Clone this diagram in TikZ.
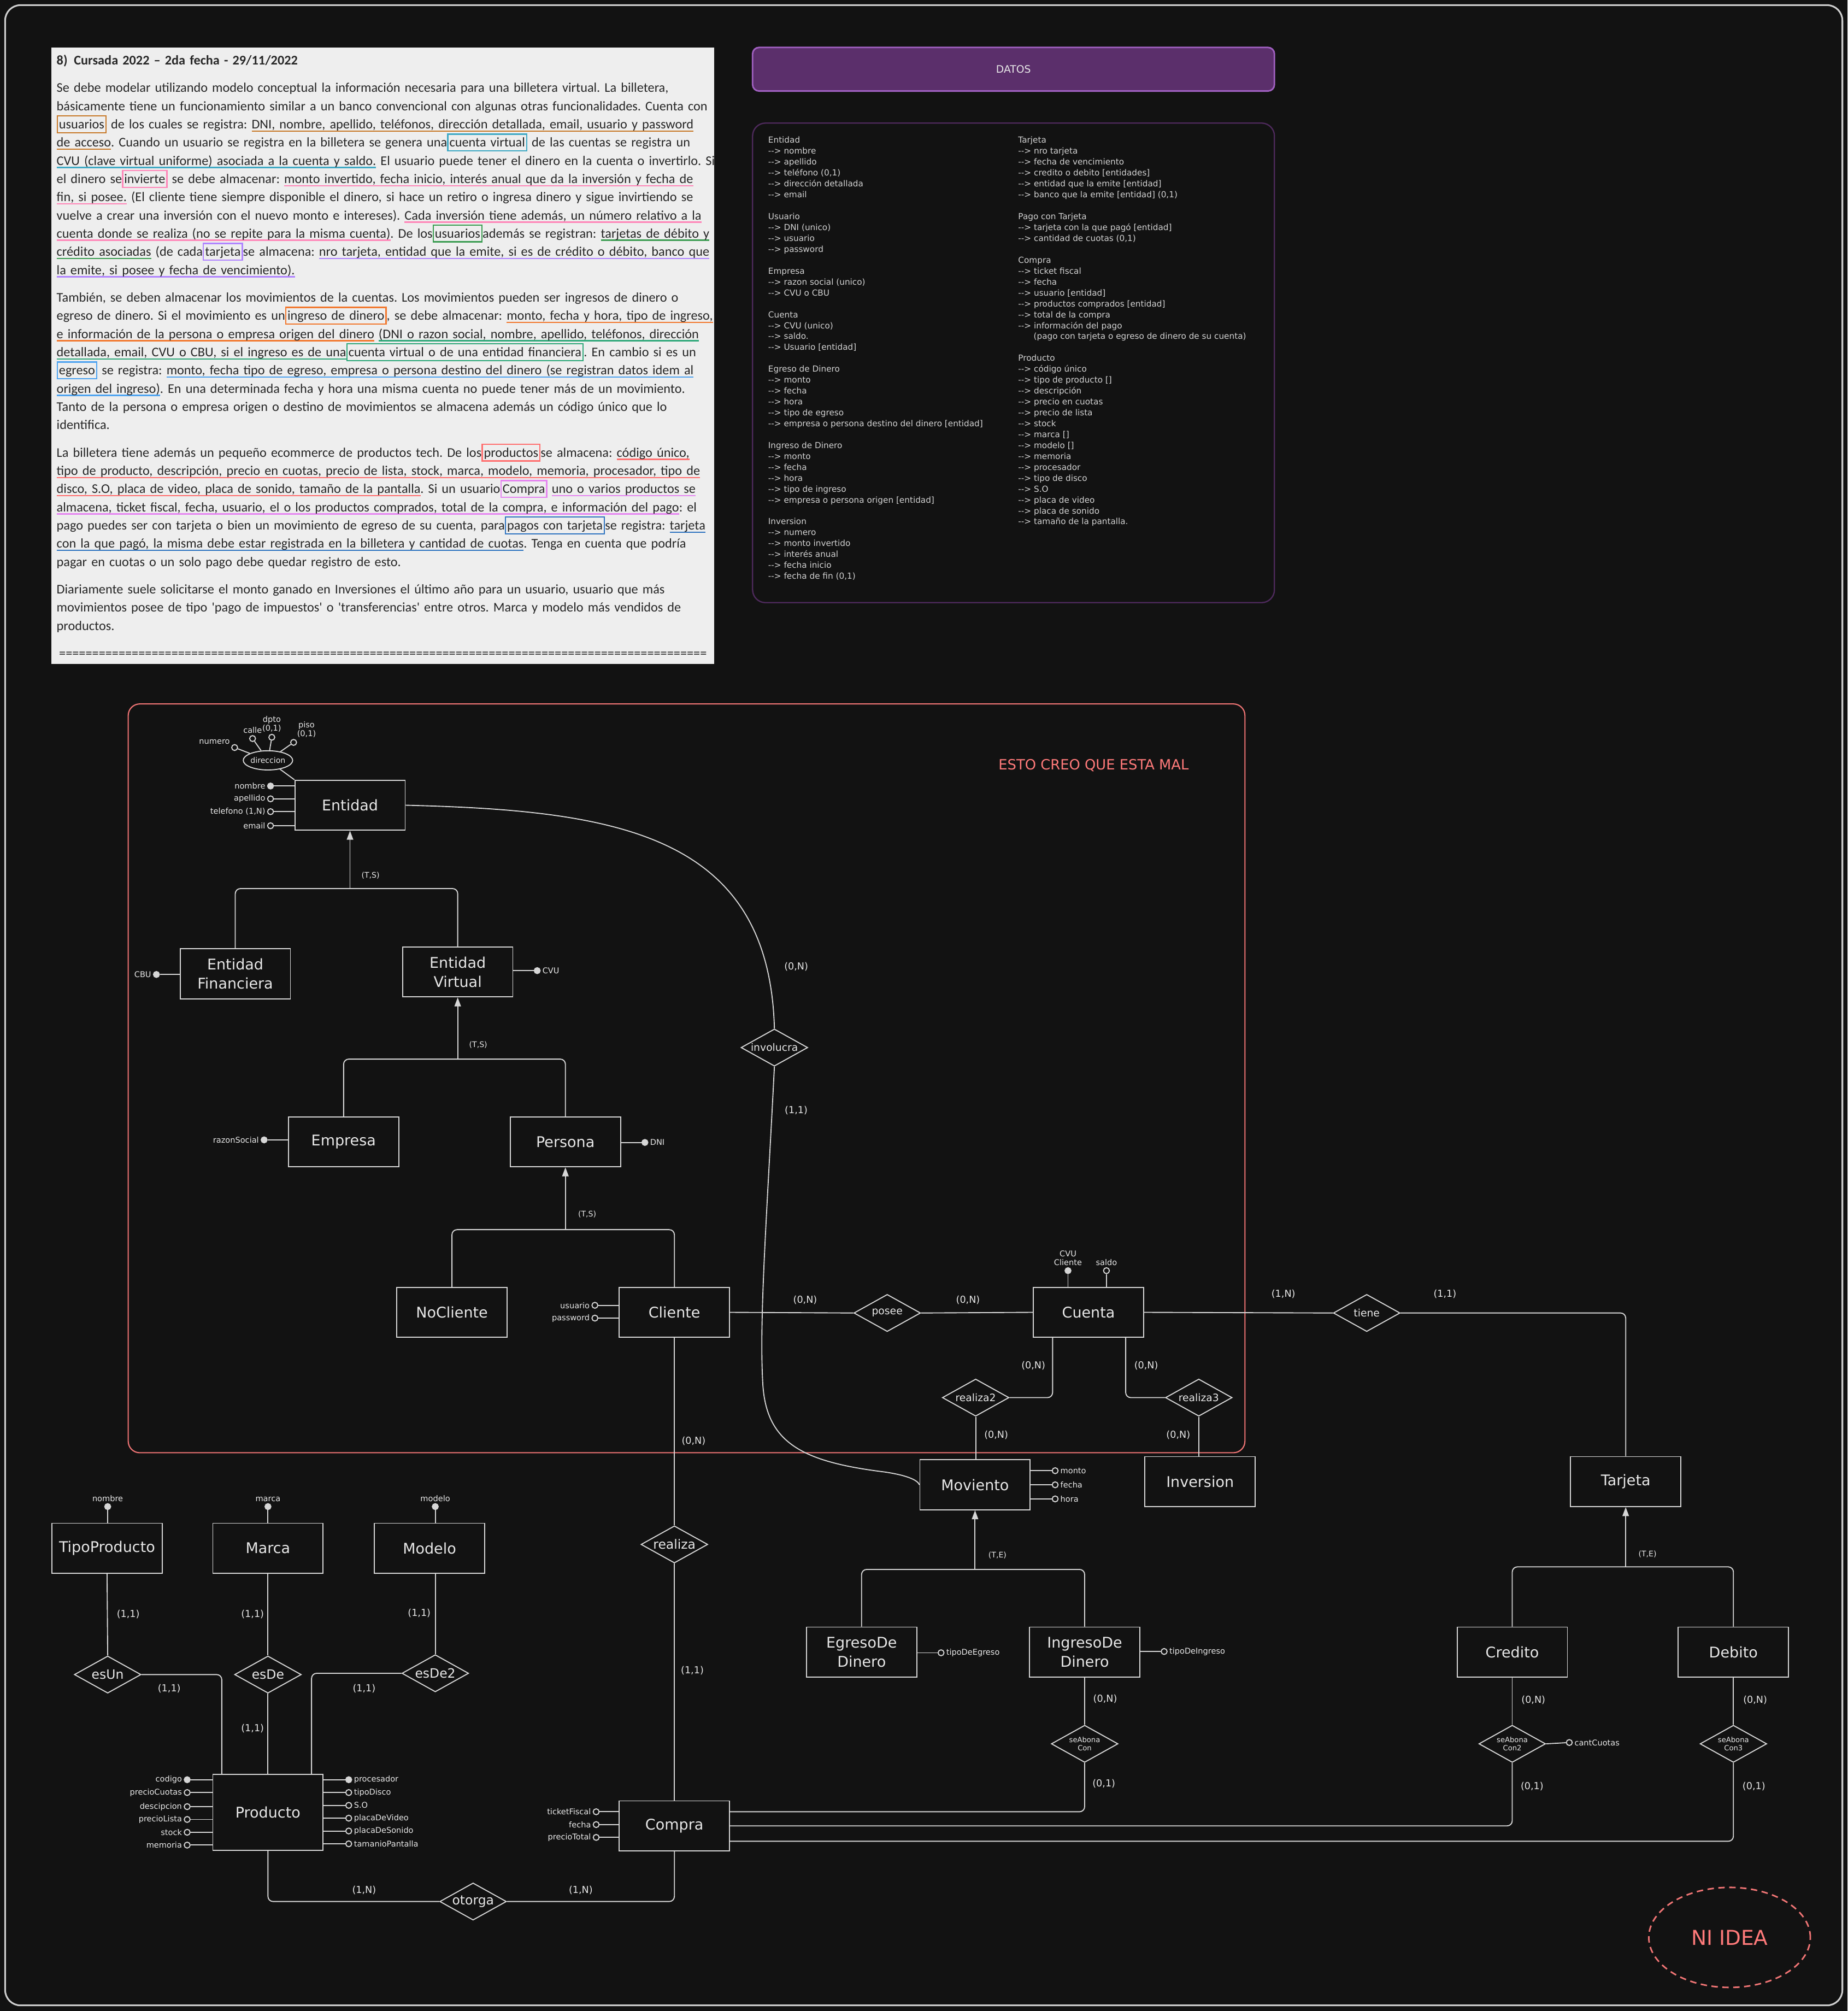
\documentclass[tikz,border=0pt]{standalone}
\usepackage{fontspec}
\usepackage{xcolor}
\usepackage{tikz}
\usetikzlibrary{shapes.geometric, arrows.meta}

\newfontfamily\hand{DejaVu Sans}
\newfontfamily\docfont{Carlito}

\definecolor{bgC}{HTML}{121212}
\definecolor{lineC}{HTML}{D6D6D6}
\definecolor{txtC}{HTML}{E8E8E8}
\definecolor{frameC}{HTML}{D0D0D0}
\definecolor{redC}{HTML}{F07575}
\definecolor{noteC}{HTML}{FF7A7A}
\definecolor{docBg}{HTML}{EEEEEE}
\definecolor{docTxt}{HTML}{262626}
\definecolor{purpF}{HTML}{5B2F6B}
\definecolor{purpB}{HTML}{A060C0}
\definecolor{purpD}{HTML}{4E2A5C}
\definecolor{datTxt}{HTML}{D2D2D2}
\definecolor{c1}{HTML}{C87A2A}
\definecolor{c2}{HTML}{3FA9C4}
\definecolor{c3}{HTML}{FF86B8}
\definecolor{c4}{HTML}{3C9C52}
\definecolor{c5}{HTML}{B084FF}
\definecolor{c6}{HTML}{F2782E}
\definecolor{c7}{HTML}{2FA87A}
\definecolor{c8}{HTML}{4EA3F0}
\definecolor{c9}{HTML}{FF6F6F}
\definecolor{c10}{HTML}{E586F0}
\definecolor{c11}{HTML}{2F74C0}

% flecha de texto sin ligadura
\newcommand\da{-\kern0pt-\kern0pt>\space}
% subrayado y recuadro de color
\newcommand\hu[2]{\leavevmode\setbox0\hbox{#2}\rlap{\textcolor{#1}{\rule[-2.4pt]{\wd0}{1.1pt}}}\box0\relax}
\newcommand\bx[2]{{\setlength\fboxsep{0.8pt}\setlength\fboxrule{1pt}\fcolorbox{#1}{docBg}{\vphantom{Ág}#2}}}

\begin{document}
\begin{tikzpicture}[x=1pt, y=-1pt,
            ent/.style={draw=lineC, line width=0.8pt, fill=bgC, text=txtC, minimum width=86pt, minimum height=39pt, inner sep=1pt, align=center, font=\hand\fontsize{11.5}{15}\selectfont},
            rel/.style={diamond, draw=lineC, line width=0.8pt, fill=bgC, text=txtC, aspect=1.8, minimum width=52pt, minimum height=29pt, inner sep=0.5pt, align=center, font=\hand\fontsize{8}{9.5}\selectfont},
            bigrel/.style={rel, font=\hand\fontsize{10}{12}\selectfont},
            tinyrel/.style={rel, font=\hand\fontsize{5.6}{6.6}\selectfont},
            attr/.style={circle, draw=lineC, line width=0.8pt, fill=bgC, inner sep=0pt, minimum size=4.6pt},
            pkey/.style={fill=lineC},
            albl/.style={text=txtC, inner sep=1.2pt, font=\hand\fontsize{6.2}{7}\selectfont},
            card/.style={text=txtC, inner sep=0pt, font=\hand\fontsize{7.5}{9}\selectfont},
            isalbl/.style={text=txtC, inner sep=0pt, font=\hand\fontsize{6}{7}\selectfont},
            conn/.style={draw=lineC, line width=0.8pt},
            elbow/.style={conn, rounded corners=4pt},
            isa/.style={conn, -{Triangle[width=5pt,length=7pt]}},
            dat/.style={anchor=north west, inner sep=0pt, align=left, text=datTxt, font=\hand\fontsize{6.5}{8.5}\selectfont},
            note/.style={text=noteC, font=\hand\fontsize{11}{13}\selectfont}
        ]

        % Fondo y marco
        \useasboundingbox (0,0) rectangle (1441,1568.4);
        \fill[bgC] (0,0) rectangle (1441,1568.4);
        \draw[frameC, line width=1.3pt, rounded corners=12pt] (4,4) rectangle (1437,1564);

        % Enunciado
        \fill[docBg] (40,37) rectangle (557,518);
        \node[anchor=north west, inner sep=0pt, text width=580pt, align=left, text=docTxt, font=\docfont\fontsize{10.35}{14.2}\selectfont\frenchspacing] (enun) at (44,42.6) {%
{\bfseries 8)\hspace{5pt}Cursada 2022 – 2da fecha - 29/11/2022}\\[7.3pt]
Se debe modelar utilizando modelo conceptual la información necesaria para una billetera virtual. La billetera,\\
básicamente tiene un funcionamiento similar a un banco convencional con algunas otras funcionalidades. Cuenta con\\
\bx{c1}{usuarios} de los cuales se registra: \hu{c1}{DNI, nombre, apellido, teléfonos, dirección detallada, email, usuario y password}\\
\hu{c1}{de acceso}. Cuando un usuario se registra en la billetera se genera una\bx{c2}{cuenta virtual} de las cuentas se registra un\\
\hu{c2}{CVU (clave virtual uniforme) asociada a la cuenta y saldo.} El usuario puede tener el dinero en la cuenta o invertirlo. Si\\
el dinero se\bx{c3}{invierte} se debe almacenar: \hu{c3}{monto invertido, fecha inicio, interés anual que da la inversión y fecha de}\\
\hu{c3}{fin, si posee.} (El cliente tiene siempre disponible el dinero, si hace un retiro o ingresa dinero y sigue invirtiendo se\\
vuelve a crear una inversión con el nuevo monto e intereses). \hu{c3}{Cada inversión tiene además, un número relativo a la}\\
\hu{c3}{cuenta donde se realiza (no se repite para la misma cuenta)}. De los\bx{c4}{usuarios}además se registran: \hu{c4}{tarjetas de débito y}\\
\hu{c4}{crédito asociadas} (de cada\bx{c5}{tarjeta}se almacena: \hu{c5}{nro tarjeta, entidad que la emite, si es de crédito o débito, banco que}\\
\hu{c5}{la emite, si posee y fecha de vencimiento).}\\[7.3pt]
También, se deben almacenar los movimientos de la cuentas. Los movimientos pueden ser ingresos de dinero o\\
egreso de dinero. Si el movimiento es un\bx{c6}{ingreso de dinero}, se debe almacenar: \hu{c6}{monto, fecha y hora, tipo de ingreso,}\\
\hu{c6}{e información de la persona o empresa origen del dinero} \hu{c7}{(DNI o razon social, nombre, apellido, teléfonos, dirección}\\
\hu{c7}{detallada, email, CVU o CBU, si el ingreso es de una}\bx{c7}{cuenta virtual o de una entidad financiera}. En cambio si es un\\
\bx{c8}{egreso} se registra: \hu{c8}{monto, fecha tipo de egreso, empresa o persona destino del dinero (se registran datos idem al}\\
\hu{c8}{origen del ingreso)}. En una determinada fecha y hora una misma cuenta no puede tener más de un movimiento.\\
Tanto de la persona o empresa origen o destino de movimientos se almacena además un código único que lo\\
identifica.\\[7.3pt]
La billetera tiene además un pequeño ecommerce de productos tech. De los\bx{c9}{productos}se almacena: \hu{c9}{código único,}\\
\hu{c9}{tipo de producto, descripción, precio en cuotas, precio de lista, stock, marca, modelo, memoria, procesador, tipo de}\\
\hu{c9}{disco, S.O, placa de video, placa de sonido, tamaño de la pantalla}. Si un usuario\bx{c10}{Compra} \hu{c10}{uno o varios productos se}\\
\hu{c10}{almacena, ticket fiscal, fecha, usuario, el o los productos comprados, total de la compra, e información del pago}: el\\
pago puedes ser con tarjeta o bien un movimiento de egreso de su cuenta, para\bx{c11}{pagos con tarjeta}se registra: \hu{c11}{tarjeta}\\
\hu{c11}{con la que pagó, la misma debe estar registrada en la billetera y cantidad de cuotas}. Tenga en cuenta que podría\\
pagar en cuotas o un solo pago debe quedar registro de esto.\\[7.3pt]
Diariamente suele solicitarse el monto ganado en Inversiones el último año para un usuario, usuario que más\\
movimientos posee de tipo 'pago de impuestos' o 'transferencias' entre otros. Marca y modelo más vendidos de\\
productos.\\[7.3pt]
\hbox to 509pt{\cleaders\hbox{=}\hfill}};

        % Datos
        \node[draw=purpB, fill=purpF, line width=1.2pt, rounded corners=5pt, minimum width=407pt, minimum height=34pt, text=txtC, font=\hand\fontsize{8}{9}\selectfont] (datos) at (790.5,54) {DATOS};
        \draw[purpD, line width=1pt, rounded corners=10pt] (587,96) rectangle (994,470);
        \node[dat] (datL) at (599,106.5) {Entidad\\
\da nombre\\
\da apellido\\
\da teléfono (0,1)\\
\da dirección detallada\\
\da email\\[8.5pt]
Usuario\\
\da DNI (unico)\\
\da usuario\\
\da password\\[8.5pt]
Empresa\\
\da razon social (unico)\\
\da CVU o CBU\\[8.5pt]
Cuenta\\
\da CVU (unico)\\
\da saldo.\\
\da Usuario [entidad]\\[8.5pt]
Egreso de Dinero\\
\da monto\\
\da fecha\\
\da hora\\
\da tipo de egreso\\
\da empresa o persona destino del dinero [entidad]\\[8.5pt]
Ingreso de Dinero\\
\da monto\\
\da fecha\\
\da hora\\
\da tipo de ingreso\\
\da empresa o persona origen [entidad]\\[8.5pt]
Inversion\\
\da numero\\
\da monto invertido\\
\da interés anual\\
\da fecha inicio\\
\da fecha de fin (0,1)};
        \node[dat] (datR) at (794,106.5) {Tarjeta\\
\da nro tarjeta\\
\da fecha de vencimiento\\
\da credito o debito [entidades]\\
\da entidad que la emite [entidad]\\
\da banco que la emite [entidad] (0,1)\\[8.5pt]
Pago con Tarjeta\\
\da tarjeta con la que pagó [entidad]\\
\da cantidad de cuotas (0,1)\\[8.5pt]
Compra\\
\da ticket fiscal\\
\da fecha\\
\da usuario [entidad]\\
\da productos comprados [entidad]\\
\da total de la compra\\
\da información del pago\\
\hspace*{12pt}(pago con tarjeta o egreso de dinero de su cuenta)\\[8.5pt]
Producto\\
\da código único\\
\da tipo de producto []\\
\da descripción\\
\da precio en cuotas\\
\da precio de lista\\
\da stock\\
\da marca []\\
\da modelo []\\
\da memoria\\
\da procesador\\
\da tipo de disco\\
\da S.O\\
\da placa de video\\
\da placa de sonido\\
\da tamaño de la pantalla.};

        % Zona dudosa
        \draw[redC, line width=0.9pt, rounded corners=9pt] (100,549) rectangle (971,1133);
        \node[note] (nota1) at (853,597) {ESTO CREO QUE ESTA MAL};

        % Entidades
        \node[ent] (Ent) at (273,628) {Entidad};
        \node[ent] (EFin) at (183.5,759.5) {Entidad\\Financiera};
        \node[ent] (EVir) at (357,758) {Entidad\\Virtual};
        \node[ent] (Emp) at (268,890.5) {Empresa};
        \node[ent] (Per) at (441,890.5) {Persona};
        \node[ent] (NoCli) at (352.5,1023.5) {NoCliente};
        \node[ent] (Cli) at (526,1023.5) {Cliente};
        \node[ent] (Cue) at (849,1023.5) {Cuenta};
        \node[ent] (Mov) at (760.5,1158) {Moviento};
        \node[ent] (Inv) at (936,1155.5) {Inversion};
        \node[ent] (Tar) at (1268,1155.5) {Tarjeta};
        \node[ent] (TipP) at (83.5,1207.5) {TipoProducto};
        \node[ent] (Mar) at (209,1207.5) {Marca};
        \node[ent] (Mod) at (335,1207.5) {Modelo};
        \node[ent] (Egr) at (672,1288.5) {EgresoDe\\Dinero};
        \node[ent] (Ing) at (846,1288.5) {IngresoDe\\Dinero};
        \node[ent] (Cre) at (1179.5,1288.5) {Credito};
        \node[ent] (Deb) at (1352,1288.5) {Debito};
        \node[ent, minimum height=59pt] (Prod) at (209,1413.5) {Producto};
        \node[ent] (Comp) at (526,1424) {Compra};

        % Relaciones
        \node[rel] (invo) at (604,817) {involucra};
        \node[rel] (pos) at (692,1024) {posee};
        \node[rel] (rz2) at (761,1090) {realiza2};
        \node[rel] (rz3) at (935,1090) {realiza3};
        \node[rel] (tie) at (1066,1024) {tiene};
        \node[bigrel] (rz) at (526,1204.5) {realiza};
        \node[bigrel] (eun) at (84,1306) {esUn};
        \node[bigrel] (ede) at (209,1306) {esDe};
        \node[bigrel] (ed2) at (339.5,1305) {esDe2};
        \node[tinyrel] (sab1) at (846,1360) {seAbona\\Con};
        \node[tinyrel] (sab2) at (1179.5,1360) {seAbona\\Con2};
        \node[tinyrel] (sab3) at (1352,1360) {seAbona\\Con3};
        \node[bigrel] (oto) at (369,1483) {otorga};

        % Atributos de Entidad
        \node[ellipse, draw=lineC, line width=0.8pt, fill=bgC, text=txtC, inner sep=0pt, minimum width=38pt, minimum height=15pt, font=\hand\fontsize{6}{7}\selectfont] (dir) at (209,593) {direccion};
        \node[attr, label={[albl]150:numero}] (aDnum) at (183,583) {};
        \node[attr, label={[albl]above:calle}] (aDcal) at (197,576) {};
        \node[attr, label={[albl, align=center]above:{dpto\\(0,1)}}] (aDdpt) at (212,575) {};
        \node[attr, label={[albl, align=center]60:{piso\\(0,1)}}] (aDpis) at (229,579) {};
        \node[attr, pkey, label={[albl]left:nombre}] (aEnom) at (211,613) {};
        \node[attr, label={[albl]left:apellido}] (aEape) at (211,623) {};
        \node[attr, label={[albl]left:{telefono (1,N)}}] (aEtel) at (211,633) {};
        \node[attr, label={[albl]left:email}] (aEema) at (211,644) {};

        \draw[conn] (aDnum) -- (dir);
        \draw[conn] (aDcal) -- (dir);
        \draw[conn] (aDdpt) -- (dir);
        \draw[conn] (aDpis) -- (dir);
        \draw[conn] (dir) -- (Ent.north west);
        \draw[conn] (aEnom) -- (aEnom -| Ent.west);
        \draw[conn] (aEape) -- (aEape -| Ent.west);
        \draw[conn] (aEtel) -- (aEtel -| Ent.west);
        \draw[conn] (aEema) -- (aEema -| Ent.west);

        % Otros atributos
        \node[attr, pkey, label={[albl]left:CBU}] (aCbu) at (122,760) {};
        \node[attr, pkey, label={[albl]right:CVU}] (aCvu) at (419,757) {};
        \node[attr, pkey, label={[albl]left:razonSocial}] (aRaz) at (206,889) {};
        \node[attr, pkey, label={[albl]right:DNI}] (aDni) at (503,891) {};
        \node[attr, label={[albl]left:usuario}] (aUsu) at (464,1018) {};
        \node[attr, label={[albl]left:password}] (aPas) at (464,1028) {};
        \node[attr, pkey, label={[albl, align=center]above:{CVU\\Cliente}}] (aCvc) at (833,991) {};
        \node[attr, label={[albl]above:saldo}] (aSal) at (863,991) {};
        \node[attr, label={[albl]right:monto}] (aMmo) at (823,1147) {};
        \node[attr, label={[albl]right:fecha}] (aMfe) at (823,1158) {};
        \node[attr, label={[albl]right:hora}] (aMho) at (823,1169) {};
        \node[attr, label={[albl]right:tipoDeEgreso}] (aTde) at (734,1289) {};
        \node[attr, label={[albl]right:tipoDeIngreso}] (aTdi) at (908,1288) {};
        \node[attr, label={[albl]right:cantCuotas}] (aCc) at (1224,1359) {};
        \node[attr, pkey, label={[albl]above:nombre}] (aTpn) at (84,1175) {};
        \node[attr, pkey, label={[albl]above:marca}] (aMar) at (209,1175) {};
        \node[attr, pkey, label={[albl]above:modelo}] (aMod) at (339.5,1175) {};
        \node[attr, label={[albl]left:ticketFiscal}] (aTic) at (465,1413) {};
        \node[attr, label={[albl]left:fecha}] (aCfe) at (465,1423) {};
        \node[attr, label={[albl]left:precioTotal}] (aPtt) at (465,1433) {};

        \node[attr, pkey, label={[albl]left:codigo}] (aPcod) at (146,1388) {};
        \node[attr, label={[albl]left:precioCuotas}] (aPpcu) at (146,1398) {};
        \node[attr, label={[albl]left:descipcion}] (aPdes) at (146,1409) {};
        \node[attr, label={[albl]left:precioLista}] (aPpli) at (146,1419) {};
        \node[attr, label={[albl]left:stock}] (aPsto) at (146,1429) {};
        \node[attr, label={[albl]left:memoria}] (aPmem) at (146,1439) {};
        \node[attr, pkey, label={[albl]right:procesador}] (aPpro) at (272,1388) {};
        \node[attr, label={[albl]right:tipoDisco}] (aPtdi) at (272,1398) {};
        \node[attr, label={[albl]right:S.O}] (aPso) at (272,1408) {};
        \node[attr, label={[albl]right:placaDeVideo}] (aPvid) at (272,1418) {};
        \node[attr, label={[albl]right:placaDeSonido}] (aPson) at (272,1428) {};
        \node[attr, label={[albl]right:tamanioPantalla}] (aPtam) at (272,1438) {};

        \draw[conn] (aCbu) -- (aCbu -| EFin.west);
        \draw[conn] (aCvu) -- (aCvu -| EVir.east);
        \draw[conn] (aRaz) -- (aRaz -| Emp.west);
        \draw[conn] (aDni) -- (aDni -| Per.east);
        \draw[conn] (aUsu) -- (aUsu -| Cli.west);
        \draw[conn] (aPas) -- (aPas -| Cli.west);
        \draw[conn] (aCvc) -- (aCvc |- Cue.north);
        \draw[conn] (aSal) -- (aSal |- Cue.north);
        \draw[conn] (aMmo) -- (aMmo -| Mov.east);
        \draw[conn] (aMfe) -- (aMfe -| Mov.east);
        \draw[conn] (aMho) -- (aMho -| Mov.east);
        \draw[conn] (aTde) -- (aTde -| Egr.east);
        \draw[conn] (aTdi) -- (aTdi -| Ing.east);
        \draw[conn] (sab2.east) -- (aCc);
        \draw[conn] (aTpn) -- (aTpn |- TipP.north);
        \draw[conn] (aMar) -- (aMar |- Mar.north);
        \draw[conn] (aMod) -- (aMod |- Mod.north);
        \draw[conn] (aTic) -- (aTic -| Comp.west);
        \draw[conn] (aCfe) -- (aCfe -| Comp.west);
        \draw[conn] (aPtt) -- (aPtt -| Comp.west);
        \draw[conn] (aPcod) -- (aPcod -| Prod.west);
        \draw[conn] (aPpcu) -- (aPpcu -| Prod.west);
        \draw[conn] (aPdes) -- (aPdes -| Prod.west);
        \draw[conn] (aPpli) -- (aPpli -| Prod.west);
        \draw[conn] (aPsto) -- (aPsto -| Prod.west);
        \draw[conn] (aPmem) -- (aPmem -| Prod.west);
        \draw[conn] (aPpro) -- (aPpro -| Prod.east);
        \draw[conn] (aPtdi) -- (aPtdi -| Prod.east);
        \draw[conn] (aPso) -- (aPso -| Prod.east);
        \draw[conn] (aPvid) -- (aPvid -| Prod.east);
        \draw[conn] (aPson) -- (aPson -| Prod.east);
        \draw[conn] (aPtam) -- (aPtam -| Prod.east);

        % Jerarquias
        \coordinate (jE) at (273,693);
        \coordinate (jV) at (357,826);
        \coordinate (jP) at (441,959);
        \coordinate (jM) at (760.5,1224);
        \coordinate (jT) at (1268,1222);
        \draw[elbow] (EFin.north) |- (jE) -| (EVir.north);
        \draw[isa] (jE) -- (Ent.south);
        \draw[elbow] (Emp.north) |- (jV) -| (Per.north);
        \draw[isa] (jV) -- (EVir.south);
        \draw[elbow] (NoCli.north) |- (jP) -| (Cli.north);
        \draw[isa] (jP) -- (Per.south);
        \draw[elbow] (Egr.north) |- (jM) -| (Ing.north);
        \draw[isa] (jM) -- (Mov.south);
        \draw[elbow] (Cre.north) |- (jT) -| (Deb.north);
        \draw[isa] (jT) -- (Tar.south);

        % Relaciones: conexiones
        \draw[conn] (Cli.east) -- (pos.west);
        \draw[conn] (pos.east) -- (Cue.west);
        \draw[conn] (Cue.east) -- (tie.west);
        \draw[elbow] (tie.east) -| (Tar.north);
        \draw[elbow] ([xshift=-28pt]Cue.south) |- (rz2.east);
        \draw[conn] (rz2.south) -- (Mov.north -| rz2.south);
        \draw[elbow] ([xshift=29pt]Cue.south) |- (rz3.west);
        \draw[conn] (rz3.south) -- (Inv.north -| rz3.south);
        \draw[conn] (Cli.south) -- (rz.north);
        \draw[conn] (rz.south) -- (Comp.north);
        \draw[conn] (Ent.east) .. controls (480,632) and (600,650) .. (invo.north);
        \draw[conn] (invo.south) .. controls (598,950) and (592,1030) .. (595,1080)
            .. controls (598,1125) and (625,1140) .. (690,1148)
            .. controls (710,1151) and (716,1155) .. (Mov.west);
        \draw[conn] (TipP.south) -- (eun.north);
        \draw[elbow] (eun.east) -| ([xshift=-36pt]Prod.north);
        \draw[conn] (Mar.south) -- (ede.north);
        \draw[conn] (ede.south) -- (Prod.north);
        \draw[conn] ([xshift=4.5pt]Mod.south) -- (ed2.north);
        \draw[elbow] (ed2.west) -| ([xshift=34pt]Prod.north);
        \draw[conn] (Ing.south) -- (sab1.north);
        \draw[elbow] (sab1.south) |- ([yshift=11pt]Comp.east);
        \draw[conn] (Cre.south) -- (sab2.north);
        \draw[elbow] (sab2.south) |- (Comp.east);
        \draw[conn] (Deb.south) -- (sab3.north);
        \draw[elbow] (sab3.south) |- ([yshift=-12pt]Comp.east);
        \draw[elbow] (Comp.south) |- (oto.east);
        \draw[elbow] (oto.west) -| (Prod.south);

        % Cardinalidades
        \node[isalbl] (kE) at (289,683) {(T,S)};
        \node[isalbl] (kV) at (373,815) {(T,S)};
        \node[isalbl] (kP) at (458,947) {(T,S)};
        \node[isalbl] (kM) at (778,1213) {(T,E)};
        \node[isalbl] (kT) at (1285,1212) {(T,E)};
        \node[card] (k1) at (628,1014) {(0,N)};
        \node[card] (k2) at (755,1014) {(0,N)};
        \node[card] (k3) at (1001,1009) {(1,N)};
        \node[card] (k4) at (1127,1009) {(1,1)};
        \node[card] (k5) at (806,1065) {(0,N)};
        \node[card] (k6) at (777,1119) {(0,N)};
        \node[card] (k7) at (894,1065) {(0,N)};
        \node[card] (k8) at (919,1119) {(0,N)};
        \node[card] (k9) at (621,754) {(0,N)};
        \node[card] (k10) at (621,866) {(1,1)};
        \node[card] (k11) at (541,1124) {(0,N)};
        \node[card] (k12) at (540,1303) {(1,1)};
        \node[card] (k13) at (100,1259) {(1,1)};
        \node[card] (k14) at (132,1317) {(1,1)};
        \node[card] (k15) at (197,1259) {(1,1)};
        \node[card] (k16) at (197,1348) {(1,1)};
        \node[card] (k17) at (327,1258) {(1,1)};
        \node[card] (k18) at (284,1317) {(1,1)};
        \node[card] (k19) at (862,1325) {(0,N)};
        \node[card] (k20) at (861,1391) {(0,1)};
        \node[card] (k21) at (1196,1326) {(0,N)};
        \node[card] (k22) at (1195,1393) {(0,1)};
        \node[card] (k23) at (1369,1326) {(0,N)};
        \node[card] (k24) at (1368,1393) {(0,1)};
        \node[card] (k25) at (453,1474) {(1,N)};
        \node[card] (k26) at (284,1474) {(1,N)};

        % Nota
        \node[note, draw=redC, dashed, dash pattern=on 5pt off 3.5pt, line width=1.2pt, ellipse, minimum width=126pt, minimum height=78pt, font=\hand\fontsize{16}{18}\selectfont] (nota2) at (1349,1511) {NI IDEA};

    \end{tikzpicture}
\end{document}
